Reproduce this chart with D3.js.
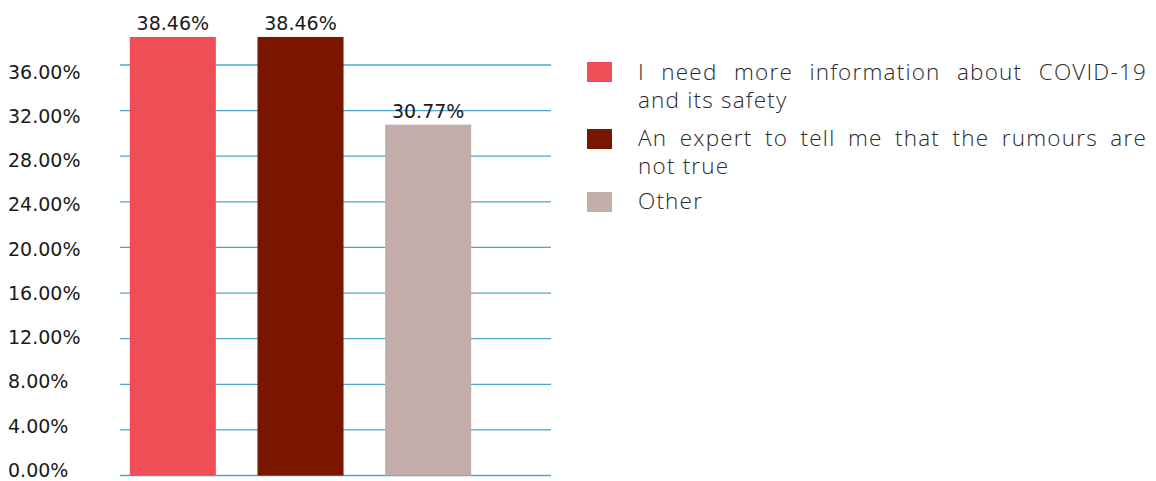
<!DOCTYPE html>
<html><head><meta charset="utf-8">
<script src="https://cdn.jsdelivr.net/npm/d3@7"></script>
<style>body{margin:0;background:#fff}</style>
</head><body><svg id="c" width="1156" height="481"></svg>
<script>
const categories = ["I need more information about COVID-19 and its safety", "An expert to tell me that the rumours are not true", "Other"];
const values = [38.46, 38.46, 30.77];
const valueLabels = ["38.46%", "38.46%", "30.77%"];
const tickValues = [0, 4, 8, 12, 16, 20, 24, 28, 32, 36];
const tickLabels = ["0.00%", "4.00%", "8.00%", "12.00%", "16.00%", "20.00%", "24.00%", "28.00%", "32.00%", "36.00%"];
const legendLines = [["I need more information about COVID-19", "and its safety"], ["An expert to tell me that the rumours are", "not true"], ["Other"]];
const colors = ["#F04E56", "#7A1500", "#C2ADA8"];

const svg = d3.select("#c");
const numFont = "'DejaVu Sans', sans-serif";
const txtFont = "'Open Sans', 'Noto Sans', sans-serif";
const y = d3.scaleLinear().domain([0, 36]).range([475.5, 65]);
const yLabel = d3.scaleLinear().domain([0, 36]).range([470, 71.5]);
const x = d3.scaleBand().domain(categories).range([109, 492]).paddingInner(0.326).paddingOuter(0.163);

// grid
const g = svg.append("g");
g.selectAll("line.grid").data(tickValues).join("line")
  .attr("x1", 120).attr("x2", 551)
  .attr("y1", d => y(d)).attr("y2", d => y(d))
  .attr("stroke", "#4BA6C9").attr("stroke-width", 1.3);

// tick labels
g.selectAll("text.tick").data(tickValues).join("text")
  .attr("x", 8).attr("y", d => yLabel(d))
  .attr("dominant-baseline", "central")
  .attr("font-family", numFont).attr("font-size", 19).attr("fill", "#1a1a1a")
  .text((d, i) => tickLabels[i]);

// bars
svg.selectAll("rect.bar").data(values).join("rect")
  .attr("x", (d, i) => x(categories[i])).attr("width", x.bandwidth())
  .attr("y", d => y(d)).attr("height", d => y(0) - y(d))
  .attr("fill", (d, i) => colors[i]);

svg.selectAll("text.val").data(values).join("text")
  .attr("x", (d, i) => x(categories[i]) + x.bandwidth() / 2)
  .attr("y", d => y(d) - 7)
  .attr("text-anchor", "middle")
  .attr("font-family", numFont).attr("font-size", 19).attr("fill", "#1a1a1a")
  .text((d, i) => valueLabels[i]);

// legend
const sqY = [62, 129, 192];
const baseY = [[80, 108], [146, 174], [209]];
const lg = svg.append("g");
legendLines.forEach((lines, i) => {
  lg.append("rect").attr("x", 587).attr("y", sqY[i]).attr("width", 25).attr("height", 20).attr("fill", colors[i]);
  lines.forEach((ln, j) => {
    const t = lg.append("text").attr("x", 638).attr("y", baseY[i][j])
      .attr("font-family", txtFont).attr("font-weight", 300).attr("font-size", 22.5)
      .attr("letter-spacing", 1.2).attr("fill", "#2a2a2a")
      .text(ln);
    if (j === 0 && lines.length > 1) {
      const w = t.node().getComputedTextLength();
      const spaces = ln.split(" ").length - 1;
      const target = 1147 - 638;
      if (spaces > 0) t.attr("word-spacing", Math.max(0, (target - w) / spaces));
    }
  });
});
</script></body></html>
